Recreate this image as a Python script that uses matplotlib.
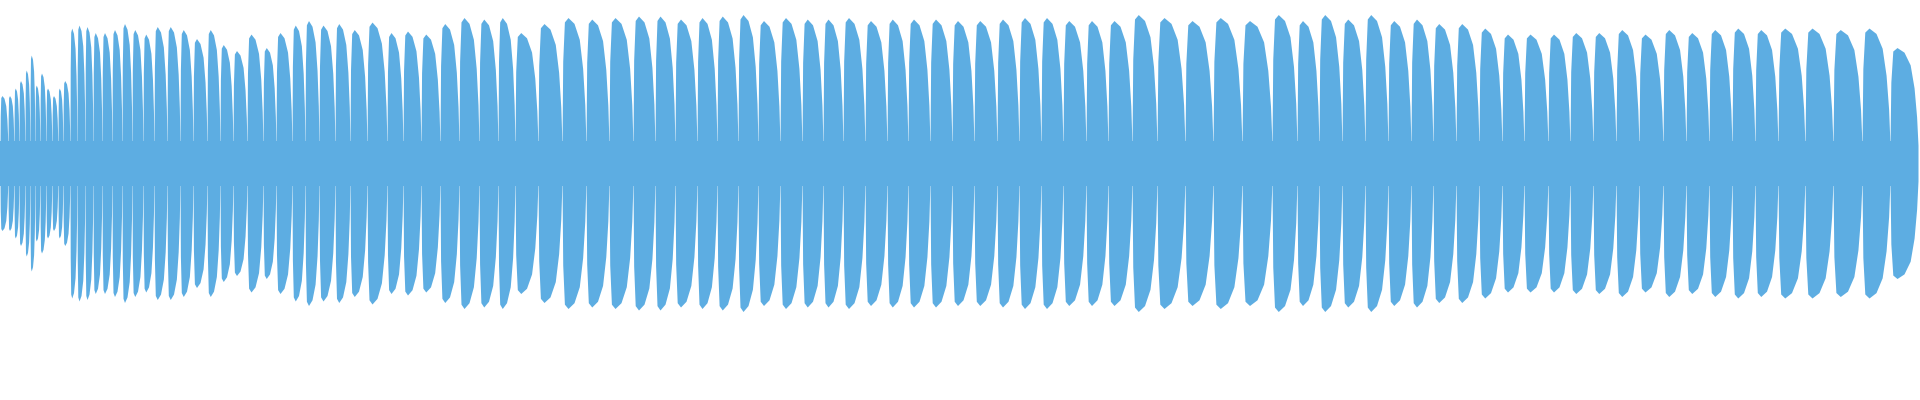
import numpy as np
import matplotlib
matplotlib.use("Agg")
import matplotlib.pyplot as plt

# burst boundaries (time units) and burst peak amplitudes
boundaries = [0, 8, 14, 19, 25, 30, 35, 40, 46, 52, 58, 63, 70,
              77, 85, 93, 102, 112, 122, 132, 143, 154, 167, 180, 193, 207, 220, 233,
              247, 263, 276, 292, 305, 319, 335, 350, 367, 387, 403, 421, 440, 459,
              479, 498, 515, 538, 562, 586, 609, 633, 655, 675, 697, 717, 738, 758,
              780, 802, 823, 843, 865, 887, 908, 930, 952, 974, 997, 1019, 1041, 1063,
              1086, 1108, 1132, 1157, 1185, 1213, 1242, 1272, 1297, 1319, 1342, 1365,
              1388, 1411, 1433, 1456, 1479, 1502, 1524, 1548, 1570, 1593, 1616, 1639,
              1663, 1686, 1709, 1732, 1755, 1778, 1805, 1833, 1862, 1890, 1918]
peaks = [0.45, 0.45, 0.5, 0.55, 0.62, 0.72, 0.52, 0.6, 0.5, 0.45, 0.5, 0.55,
         0.90, 0.92, 0.91, 0.87, 0.87, 0.89, 0.93, 0.89, 0.86, 0.91, 0.91, 0.89, 0.83, 0.89,
         0.79, 0.75, 0.86, 0.77, 0.87, 0.92, 0.95, 0.92, 0.93, 0.89, 0.94, 0.87, 0.88, 0.86,
         0.93, 0.97, 0.96, 0.97, 0.87, 0.93, 0.97, 0.96, 0.97, 0.98,
         0.98, 0.96, 0.97, 0.98, 0.99, 0.95, 0.97, 0.96, 0.96, 0.97, 0.95, 0.96, 0.96, 0.96,
         0.95, 0.95, 0.96, 0.97, 0.97, 0.95, 0.95, 0.95, 0.99,
         0.97, 0.95, 0.97, 0.95, 0.99,
         0.95, 0.99, 0.96, 0.99, 0.95, 0.96, 0.93, 0.93, 0.90, 0.86, 0.86, 0.86, 0.87, 0.87,
         0.89, 0.86, 0.89, 0.87, 0.89, 0.90, 0.89, 0.90,
         0.90, 0.89, 0.90, 0.77]
gap_level = 0.15

# relative burst envelope shape (style)
shape_t = [0.0, 0.03, 0.1, 0.25, 0.5, 0.72, 0.86, 0.95, 1.0]
shape_a = [0.12, 0.7, 0.97, 1.0, 0.96, 0.85, 0.65, 0.4, 0.12]

fig = plt.figure(figsize=(19.2, 4.0), dpi=100)
ax = fig.add_axes([0, 0, 1, 1])
color = "#5DADE2"
for i, pk in enumerate(peaks):
    x0, x1 = boundaries[i], boundaries[i + 1]
    xs = x0 + np.array(shape_t) * (x1 - x0)
    env = np.maximum(np.array(shape_a) * pk, gap_level)
    env[0] = env[-1] = gap_level * 0.8
    ax.fill_between(xs, -env, env, color=color, lw=0)
ax.fill_between([0, 1918], [-gap_level] * 2, [gap_level] * 2, color=color, lw=0)
ax.set_xlim(0, 1920)
ax.set_ylim(-1.58, 1.087)
ax.axis("off")
fig.savefig("out.png", dpi=100)
